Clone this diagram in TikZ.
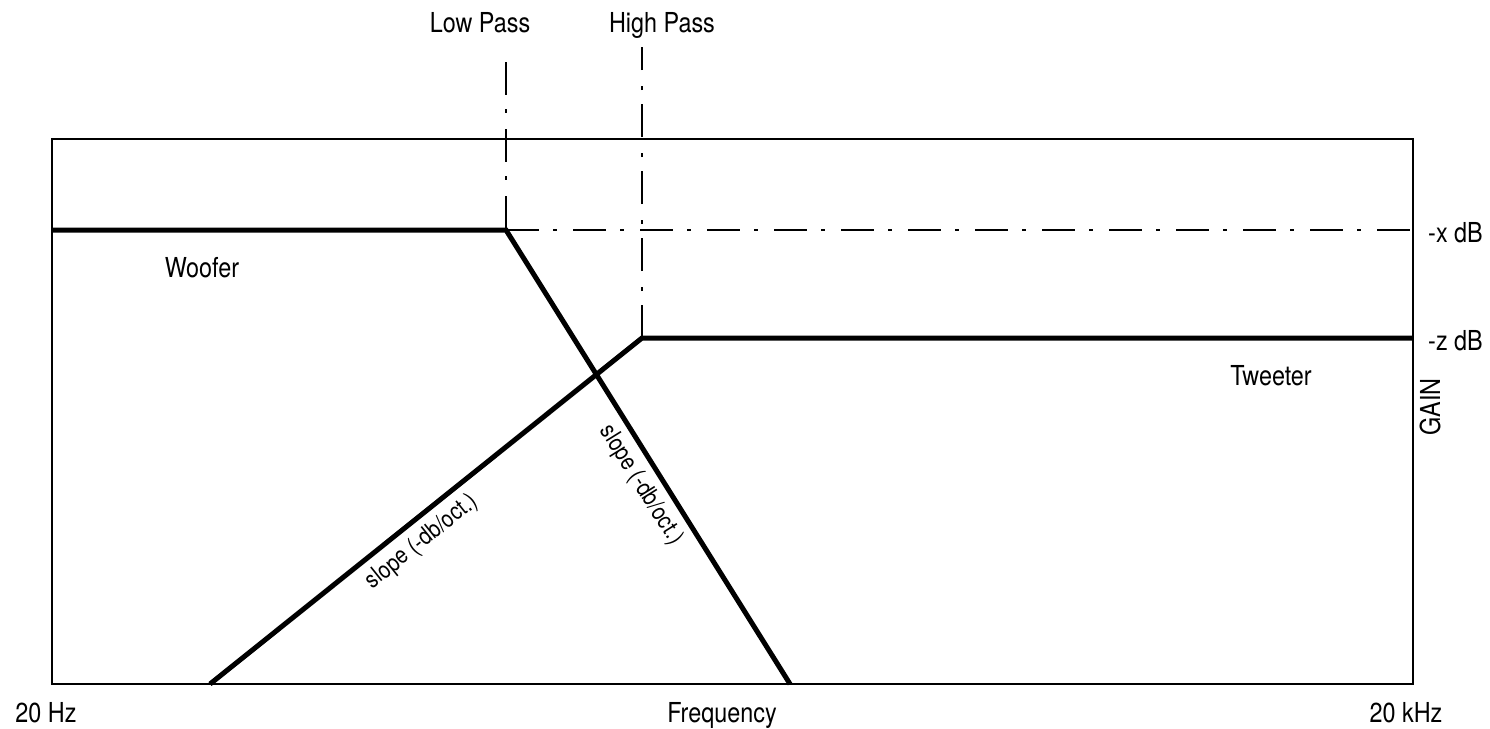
\documentclass[tikz,border=0pt]{standalone}
\usepackage{fontspec}
\newfontfamily\labfont[FakeStretch=0.85]{TeX Gyre Heros}
\begin{document}
\begin{tikzpicture}[x=1pt,y=-1pt,
  lab/.style={font=\labfont\fontsize{27.5}{30}\selectfont, inner sep=0pt},
  slab/.style={font=\labfont\fontsize{24}{26}\selectfont, inner sep=0pt},
  frame/.style={line width=1.8pt},
  curve/.style={line width=5pt, line join=miter},
  guide/.style={line width=2pt, dash pattern=on 33pt off 14pt on 4pt off 16pt}]
\useasboundingbox (0,0) rectangle (1490,728);
% key points
\coordinate (tl) at (52,139);
\coordinate (br) at (1413,684);
\coordinate (wl) at (52,230);
\coordinate (lp) at (506,230);
\coordinate (wb) at (790,684);
\coordinate (tb) at (210,684);
\coordinate (hp) at (642,338);
\coordinate (tr) at (1413,338);
\coordinate (xr) at (1413,230);
\coordinate (lptop) at (506,62);
\coordinate (hptop) at (642,47);
% frame
\draw[frame] (tl) rectangle (br);
% guides
\draw[guide] (lptop) -- (lp);
\draw[guide] (hp) -- (hptop);
\draw[guide] (lp) -- (xr);
% curves
\draw[curve] (wl) -- (lp) -- (wb);
\draw[curve] (tb) -- (hp) -- (tr);
% labels
\node[lab, anchor=base] (lowpass) at (480,32) {Low Pass};
\node[lab, anchor=base] (highpass) at (662,32) {High Pass};
\node[lab, anchor=base] (woofer) at (202,277) {Woofer};
\node[lab, anchor=base] (tweeter) at (1271,385) {Tweeter};
\node[lab, anchor=base west] (xdb) at (1428,242) {-x dB};
\node[lab, anchor=base west] (zdb) at (1428,350) {-z dB};
\node[lab, anchor=base, rotate=90] (gain) at (1440,407) {GAIN};
\node[lab, anchor=base] (hz) at (46,722) {20 Hz};
\node[lab, anchor=base] (freq) at (722,722) {Frequency};
\node[lab, anchor=base] (khz) at (1406,722) {20 kHz};
\node[slab, rotate=38.7] (slope1) at (422,542) {slope (-db/oct.)};
\node[slab, rotate=-58] (slope2) at (641,485) {slope (-db/oct.)};
\end{tikzpicture}
\end{document}
